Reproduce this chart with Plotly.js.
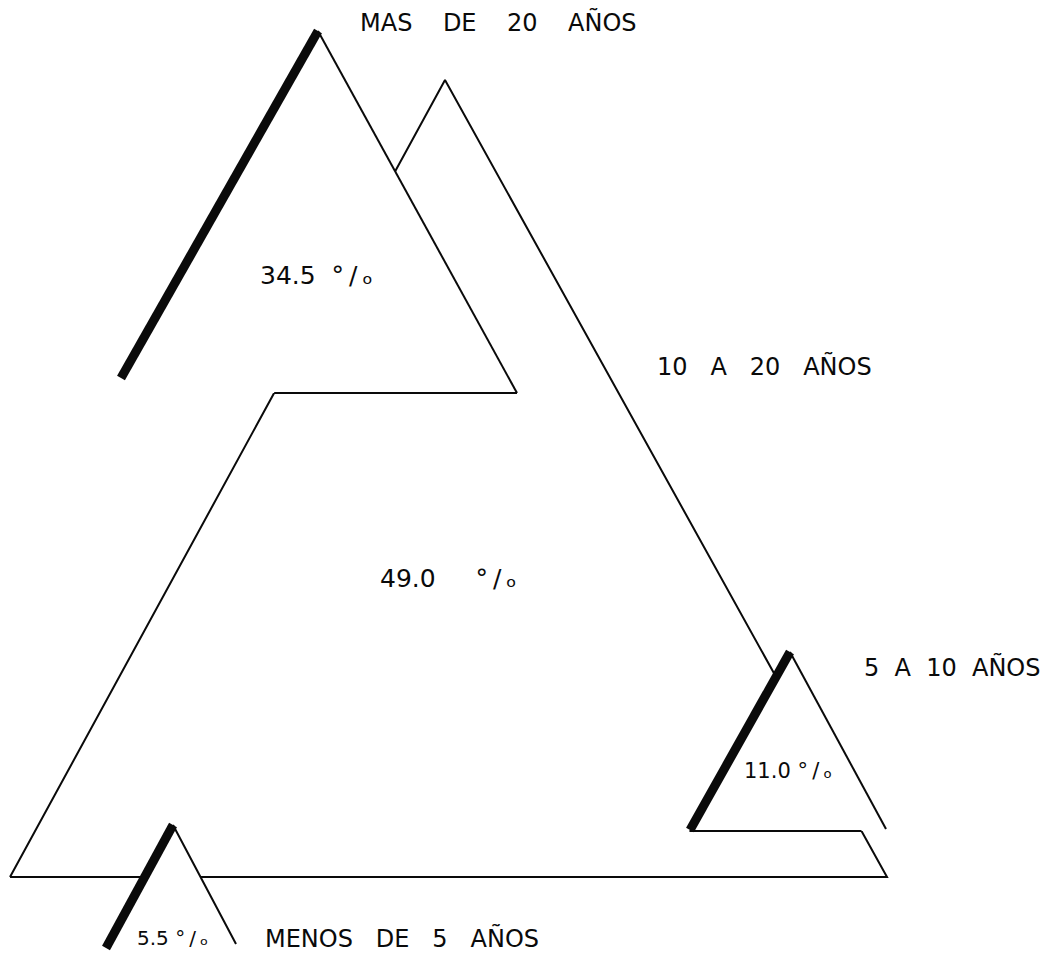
<!DOCTYPE html>
<html>
<head>
<meta charset="utf-8">
<script src="https://cdn.plot.ly/plotly-3.0.1.min.js"></script>
<style>html,body{margin:0;padding:0;background:#fff;}#chart{width:1055px;height:955px;}</style>
</head>
<body>
<div id="chart"></div>
<script>
// ---- data ----
const categories = ["MAS DE 20 AÑOS", "10 A 20 AÑOS", "5 A 10 AÑOS", "MENOS DE 5 AÑOS"];
const percentages = [34.5, 49.0, 11.0, 5.5];
const percentSuffix = "°\u2009/\u2009ₒ";

// ---- pictogram geometry (pixel-like axis units, y downward) ----
const geom = [
  {apex:[318,31], thickEnd:[121,378], rightEnd:[517,393], baseY:393, drawBase:true,  label:[358,22],  gap:4, pct:[258,275], pctGap:2, pctSize:25},
  {apex:[445,80], leftEnd:[10,877], rightEnd:[887,877], baseY:877, label:[655,366], gap:3, pct:[378,578], pctGap:5, pctSize:25},
  {apex:[790,652], thickEnd:[690,830], rightEnd:[886,829], baseY:831, drawBase:true, label:[862,667], gap:2, pct:[742,771], pctGap:1, pctSize:21},
  {apex:[173,825], thickEnd:[106,948], rightEnd:[236,944], baseY:948, drawBase:false, label:[263,938], gap:3, pct:[135,938], pctGap:1, pctSize:20}
];
const bigIdx = 1;
const INK = "#0a0a0a";

function xAt(p, q, y) { return p[0] + (q[0] - p[0]) * (y - p[1]) / (q[1] - p[1]); }

const traces = [];
function seg(xs, ys, w) {
  traces.push({type:"scatter", mode:"lines", x:xs, y:ys, line:{color:INK, width:w}, hoverinfo:"skip", showlegend:false});
}
function fillTri(xs, ys) {
  traces.push({type:"scatter", mode:"lines", x:xs, y:ys, fill:"toself", fillcolor:"#ffffff", line:{width:0, color:"rgba(0,0,0,0)"}, hoverinfo:"skip", showlegend:false});
}

// big triangle (drawn first, behind)
const B = geom[bigIdx];
fillTri([B.leftEnd[0], B.apex[0], B.rightEnd[0], B.leftEnd[0]], [B.leftEnd[1], B.apex[1], B.rightEnd[1], B.leftEnd[1]]);
seg([B.leftEnd[0], B.apex[0], B.rightEnd[0], B.leftEnd[0]], [B.leftEnd[1], B.apex[1], B.rightEnd[1], B.leftEnd[1]], 2);

// overlay triangles
geom.forEach((g, i) => {
  if (i === bigIdx) return;
  const leftBaseX = xAt(g.apex, g.thickEnd, g.baseY);
  const rightBaseX = xAt(g.apex, g.rightEnd, g.baseY);
  fillTri([g.apex[0], leftBaseX, rightBaseX, g.apex[0]], [g.apex[1], g.baseY, g.baseY, g.apex[1]]);
  seg([g.apex[0], g.rightEnd[0]], [g.apex[1], g.rightEnd[1]], 2);
  if (g.drawBase) {
    const bl = Math.max(leftBaseX, xAt(B.apex, B.leftEnd, g.baseY));
    const br = Math.min(g.rightEnd[0], xAt(B.apex, B.rightEnd, g.baseY));
    seg([bl, br], [g.baseY, g.baseY], 2);
  }
  seg([g.apex[0], g.thickEnd[0]], [g.apex[1], g.thickEnd[1]], 9);
});

const NB = "\u00A0";
function spaced(s, n) { return s.split(" ").join(NB.repeat(n)); }

const annotations = [];
categories.forEach((c, i) => {
  const g = geom[i];
  annotations.push({x:g.label[0], y:g.label[1], xref:"x", yref:"y", xanchor:"left", yanchor:"middle",
    text:spaced(c, g.gap), showarrow:false, font:{family:"DejaVu Sans", size:24, color:INK}});
  annotations.push({x:g.pct[0], y:g.pct[1], xref:"x", yref:"y", xanchor:"left", yanchor:"middle",
    text:percentages[i].toFixed(1) + NB.repeat(g.pctGap) + percentSuffix, showarrow:false,
    font:{family:"DejaVu Sans", size:g.pctSize, color:INK}});
});

const layout = {
  width:1055, height:955,
  margin:{l:0, r:0, t:0, b:0},
  paper_bgcolor:"#ffffff", plot_bgcolor:"#ffffff",
  xaxis:{range:[0,1055], visible:false, fixedrange:true},
  yaxis:{range:[955,0], visible:false, fixedrange:true},
  annotations:annotations,
  showlegend:false
};
Plotly.newPlot("chart", traces, layout, {displayModeBar:false, staticPlot:true});
</script>
</body>
</html>
